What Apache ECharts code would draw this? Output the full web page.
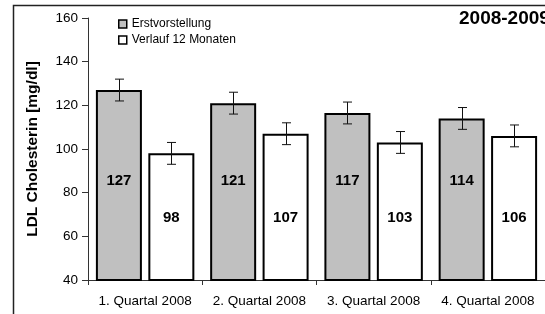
<!DOCTYPE html>
<html>
<head>
<meta charset="utf-8">
<script src="https://cdn.jsdelivr.net/npm/echarts@6/dist/echarts.min.js"></script>
<style>
  html, body { margin: 0; padding: 0; background: #fff; }
  #chart { width: 545px; height: 314px; }
</style>
</head>
<body>
<div id="chart"></div>
<script>
// Daten
const categories = ['1. Quartal 2008', '2. Quartal 2008', '3. Quartal 2008', '4. Quartal 2008'];
const erstvorstellung = [127, 121, 116.5, 114];
const verlauf = [98, 107, 103, 106];
const errErst = [5, 5, 5, 5];
const errVerlauf = [5, 5, 5, 5];
const yTicks = [40, 60, 80, 100, 120, 140, 160];

const BAR_W = 46;
const BAR_GAP = 0.14;
const FONT = 'Liberation Sans, Arial, sans-serif';

const chart = echarts.init(document.getElementById('chart'), null, { renderer: 'canvas' });

// Fehlerbalken als custom series
function errorSeries(values, errs, side) {
  return {
    type: 'custom',
    silent: true,
    z: 5,
    data: values.map((v, i) => [i, v - errs[i], v + errs[i]]),
    renderItem: (params, api) => {
      const off = side * (BAR_W + BAR_W * BAR_GAP) / 2;
      const lo = api.coord([api.value(0), api.value(1)]);
      const hi = api.coord([api.value(0), api.value(2)]);
      const x = Math.round(lo[0] + off) + 0.5;
      const hw = 4.5;
      const style = { stroke: '#111', lineWidth: 1 };
      return {
        type: 'group',
        children: [
          { type: 'line', shape: { x1: x, y1: hi[1], x2: x, y2: lo[1] }, style },
          { type: 'line', shape: { x1: x - hw, y1: hi[1], x2: x + hw, y2: hi[1] }, style },
          { type: 'line', shape: { x1: x - hw, y1: lo[1], x2: x + hw, y2: lo[1] }, style }
        ]
      };
    }
  };
}

const option = {
  animation: false,
  textStyle: { fontFamily: FONT },
  grid: { left: 88, top: 18, right: -10, bottom: 34 },
  legend: {
    orient: 'vertical',
    left: 113,
    top: 12,
    itemWidth: 8,
    itemHeight: 8,
    itemGap: 2,
    selectedMode: false,
    textStyle: { fontSize: 12, color: '#000', lineHeight: 14, fontFamily: FONT },
    data: [
      { name: 'Erstvorstellung', icon: 'rect', itemStyle: { color: '#c0c0c0', borderColor: '#000', borderWidth: 1.5 } },
      { name: 'Verlauf 12 Monaten', icon: 'rect', itemStyle: { color: '#fff', borderColor: '#000', borderWidth: 1.5 } }
    ]
  },
  graphic: [
    {
      type: 'rect',
      silent: true,
      shape: { x: 13.5, y: 5.5, width: 700, height: 500 },
      style: { fill: 'none', stroke: '#222', lineWidth: 1.5 }
    },
    {
      type: 'text',
      silent: true,
      left: 459,
      top: 9,
      style: { text: '2008-2009', fontSize: 19, fontWeight: 'bold', fill: '#000', fontFamily: FONT }
    }
  ],
  xAxis: {
    type: 'category',
    data: categories,
    axisLine: { lineStyle: { color: '#333', width: 1 } },
    axisTick: { show: true, length: 5, lineStyle: { color: '#333' } },
    axisLabel: { interval: 0, fontSize: 13.5, color: '#000', margin: 14, fontFamily: FONT },
    splitLine: { show: false }
  },
  yAxis: {
    type: 'value',
    min: yTicks[0],
    max: yTicks[yTicks.length - 1],
    interval: 20,
    name: 'LDL Cholesterin [mg/dl]',
    nameLocation: 'middle',
    nameGap: 47,
    nameTextStyle: { fontSize: 15.5, fontWeight: 'bold', color: '#000', fontFamily: FONT },
    axisLine: { show: true, lineStyle: { color: '#333', width: 1 } },
    axisTick: { show: true, length: 6, lineStyle: { color: '#333' } },
    axisLabel: { fontSize: 13.5, color: '#000', margin: 10, fontFamily: FONT },
    splitLine: { show: false }
  },
  series: [
    {
      name: 'Erstvorstellung',
      type: 'bar',
      data: erstvorstellung,
      barWidth: BAR_W,
      barGap: (BAR_GAP * 100) + '%',
      itemStyle: { color: '#c0c0c0', borderColor: '#000', borderWidth: 2 },
      label: {
        show: true,
        position: 'insideBottom',
        distance: 93,
        fontSize: 15,
        fontWeight: 'bold',
        color: '#000',
        fontFamily: FONT,
        formatter: (p) => Math.round(p.value)
      }
    },
    {
      name: 'Verlauf 12 Monaten',
      type: 'bar',
      data: verlauf,
      barWidth: BAR_W,
      barGap: (BAR_GAP * 100) + '%',
      itemStyle: { color: '#fff', borderColor: '#000', borderWidth: 2 },
      label: {
        show: true,
        position: 'insideBottom',
        distance: 56,
        fontSize: 15,
        fontWeight: 'bold',
        color: '#000',
        fontFamily: FONT,
        formatter: (p) => Math.round(p.value)
      }
    },
    errorSeries(erstvorstellung, errErst, -1),
    errorSeries(verlauf, errVerlauf, 1)
  ]
};

chart.setOption(option);
</script>
</body>
</html>
